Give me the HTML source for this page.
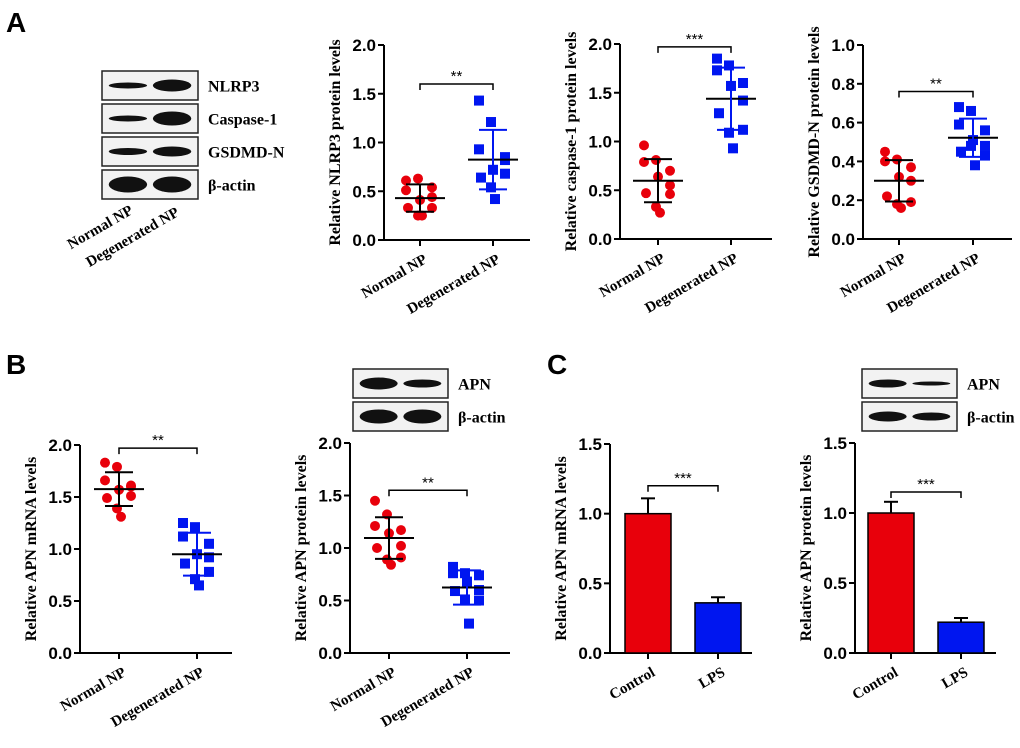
<!DOCTYPE html>
<html><head><meta charset="utf-8"><style>
html,body{margin:0;padding:0;background:#fff;}
svg{display:block;}
.tk{font-family:"Liberation Sans",Arial,sans-serif;font-weight:bold;font-size:16px;}
.sf{font-family:"Liberation Serif","Times New Roman",serif;font-weight:bold;}
</style></head><body>
<svg id="fig" width="1020" height="748" viewBox="0 0 1020 748" xmlns="http://www.w3.org/2000/svg">
<text x="6" y="32" class="tk" style="font-size:28px">A</text>
<text x="6" y="374" class="tk" style="font-size:28px">B</text>
<text x="547" y="374" class="tk" style="font-size:28px">C</text>
</svg>
<script>
// ---- data ----
const catsNP = ["Normal NP","Degenerated NP"];
const catsC = ["Control","LPS"];
const nlrp3Normal = [0.61,0.63,0.51,0.54,0.41,0.44,0.33,0.33,0.25,0.25];
const nlrp3Degen = [1.43,1.21,0.93,0.82,0.72,0.85,0.64,0.68,0.54,0.42];
const casNormal = [0.96,0.81,0.79,0.70,0.64,0.55,0.47,0.46,0.33,0.27];
const casDegen = [1.85,1.78,1.73,1.60,1.57,1.42,1.29,1.12,1.09,0.93];
const gsdNormal = [0.45,0.41,0.40,0.37,0.32,0.30,0.22,0.19,0.18,0.16];
const gsdDegen = [0.68,0.66,0.59,0.56,0.51,0.48,0.45,0.43,0.48,0.38];
const mrnaNormal = [1.83,1.79,1.66,1.60,1.57,1.61,1.49,1.51,1.39,1.31];
const mrnaDegen = [1.25,1.21,1.12,1.05,0.95,0.92,0.86,0.78,0.71,0.65];
const apnNormal = [1.45,1.32,1.21,1.17,1.14,1.02,1.00,0.91,0.89,0.84];
const apnDegen = [0.82,0.76,0.76,0.74,0.68,0.60,0.59,0.50,0.51,0.28];
const lpsMrnaMeans = [1.0,0.36];
const lpsMrnaErr = [0.11,0.04];
const lpsProtMeans = [1.0,0.22];
const lpsProtErr = [0.08,0.03];
const ticks2 = ["0.0","0.5","1.0","1.5","2.0"];
const ticks1 = ["0.0","0.2","0.4","0.6","0.8","1.0"];
const ticks15 = ["0.0","0.5","1.0","1.5"];

const NS="http://www.w3.org/2000/svg";
const svg=document.getElementById('fig');
function mk(tag,attrs,parent){const e=document.createElementNS(NS,tag);for(const k in attrs)e.setAttribute(k,attrs[k]);(parent||svg).appendChild(e);return e;}
function mean(a){return a.reduce((s,v)=>s+v,0)/a.length;}
function sd(a){const m=mean(a);return Math.sqrt(a.reduce((s,v)=>s+(v-m)*(v-m),0)/(a.length-1));}

function panel(o){
  const g=mk('g',{});
  
  
  const ymax=parseFloat(o.ticks[o.ticks.length-1]);
  const y=v=>o.y0-(v/ymax)*(o.y0-o.y1);
  const xc=i=>o.cx[i];
  const ax=mk('line',{x1:o.ax,y1:o.y1,x2:o.ax,y2:o.y0+1,stroke:'#000','stroke-width':2},g);
  
  const bx=mk('line',{x1:o.ax-1,y1:o.y0,x2:o.xend,y2:o.y0,stroke:'#000','stroke-width':2},g);
  
  o.ticks.forEach(t=>{
    const yy=y(parseFloat(t));
    mk('line',{x1:o.ax-6,y1:yy,x2:o.ax,y2:yy,stroke:'#000','stroke-width':2},g);
    const tl=mk('text',{x:o.ax-8,y:yy+6,'text-anchor':'end',class:'tk',style:'font-size:17px'},g);tl.textContent=t;
    
  });
  const yt=mk('text',{x:0,y:0,class:'sf',style:'font-size:16px','text-anchor':'middle',transform:`translate(${o.ax-44},${(o.y0+o.y1)/2}) rotate(-90)`},g);
  yt.textContent=o.title;
  o.cats.forEach((c,i)=>{
    mk('line',{x1:xc(i),y1:o.y0,x2:xc(i),y2:o.y0+6,stroke:'#000','stroke-width':2},g);
    const t=mk('text',{x:0,y:0,class:'sf',style:'font-size:15px','text-anchor':'end',transform:`translate(${xc(i)+8},${o.y0+22}) rotate(-30)`},g);
    t.textContent=c;
  });
  const cols=['#e8000b','#0016f0'];
  if(o.groups){
    const jit=[-14,-2,-14,12,0,12,-12,12,-2,2];
    o.groups.forEach((arr,gi)=>{
      arr.forEach((v,i)=>{
        const px=xc(gi)+jit[i%jit.length]*1.0, py=y(v);
        let m;
        if(gi===0) m=mk('circle',{cx:px,cy:py,r:5,fill:cols[0]},g);
        else m=mk('rect',{x:px-5,y:py-5,width:10,height:10,fill:cols[1]},g);
        
        
      });
      const m=mean(arr),s=sd(arr),ec=gi===0?'#000':cols[1];
      mk('line',{x1:xc(gi)-25,y1:y(m),x2:xc(gi)+25,y2:y(m),stroke:'#000','stroke-width':2},g);
      mk('line',{x1:xc(gi),y1:y(m+s),x2:xc(gi),y2:y(m-s),stroke:ec,'stroke-width':2},g);
      mk('line',{x1:xc(gi)-14,y1:y(m+s),x2:xc(gi)+14,y2:y(m+s),stroke:ec,'stroke-width':2},g);
      mk('line',{x1:xc(gi)-14,y1:y(m-s),x2:xc(gi)+14,y2:y(m-s),stroke:ec,'stroke-width':2},g);
    });
  }
  if(o.bars){
    o.bars.forEach((v,i)=>{
      const b=mk('rect',{x:xc(i)-23,y:y(v),width:46,height:o.y0-y(v),fill:cols[i],stroke:'#000','stroke-width':1.5},g);
      
      const e=o.err[i];
      mk('line',{x1:xc(i),y1:y(v),x2:xc(i),y2:y(v+e),stroke:'#000','stroke-width':2},g);
      mk('line',{x1:xc(i)-7,y1:y(v+e),x2:xc(i)+7,y2:y(v+e),stroke:'#000','stroke-width':2},g);
    });
  }
  const by=y(o.br);
  const br=mk('path',{d:`M${xc(0)},${by+6}V${by}H${xc(1)}V${by+6}`,fill:'none',stroke:'#000','stroke-width':1.5},g);
  
  const st=mk('text',{x:(xc(0)+xc(1))/2,y:by-3,'text-anchor':'middle',style:'font-family:"Liberation Sans",sans-serif;font-size:15px;'},g);
  st.textContent=o.stars;
}

panel({name:'nlrp3-chart',ax:384,y0:240,y1:45,xend:530,cx:[420,493],ticks:ticks2,title:'Relative NLRP3 protein levels',cats:catsNP,groups:[nlrp3Normal,nlrp3Degen],br:1.6,stars:'**'});
panel({name:'caspase1-chart',ax:620,y0:239,y1:44,xend:772,cx:[658,731],ticks:ticks2,title:'Relative caspase-1 protein levels',cats:catsNP,groups:[casNormal,casDegen],br:1.97,stars:'***'});
panel({name:'gsdmd-chart',ax:863,y0:239,y1:45,xend:1012,cx:[899,973],ticks:ticks1,title:'Relative GSDMD-N protein levels',cats:catsNP,groups:[gsdNormal,gsdDegen],br:0.76,stars:'**'});
panel({name:'apn-mrna-chart',ax:80,y0:653,y1:445,xend:232,cx:[119,197],ticks:ticks2,title:'Relative APN mRNA levels',cats:catsNP,groups:[mrnaNormal,mrnaDegen],br:1.97,stars:'**'});
panel({name:'apn-protein-chart',ax:350,y0:653,y1:443,xend:510,cx:[389,467],ticks:ticks2,title:'Relative APN protein levels',cats:catsNP,groups:[apnNormal,apnDegen],br:1.55,stars:'**'});
panel({name:'lps-mrna-chart',ax:610,y0:653,y1:444,xend:752,cx:[648,718],ticks:ticks15,title:'Relative APN mRNA levels',cats:catsC,bars:lpsMrnaMeans,err:lpsMrnaErr,br:1.2,stars:'***'});
panel({name:'lps-protein-chart',ax:855,y0:653,y1:443,xend:996,cx:[891,961],ticks:ticks15,title:'Relative APN protein levels',cats:catsC,bars:lpsProtMeans,err:lpsProtErr,br:1.15,stars:'***'});

function blot(name,x,yTop,w,h,label,bands){
  const g=mk('g',{});
  
  
  mk('rect',{x:x,y:yTop,width:w,height:h,fill:'#f2f2f2',stroke:'#222','stroke-width':1.5},g);
  bands.forEach((b,i)=>{
    const cx=x+w*(i===0?0.27:0.73);
    mk('ellipse',{cx:cx,cy:yTop+h/2,rx:w*0.2,ry:b,fill:'#111'},g);
  });
  const t=mk('text',{x:x+w+10,y:yTop+h/2+6,class:'sf',style:'font-size:16px'},g);
  t.textContent=label;
  
  
}
blot('blot-nlrp3',102,71,96,29,'NLRP3',[3,6]);
blot('blot-caspase1',102,104,96,29,'Caspase-1',[3,7]);
blot('blot-gsdmd',102,137,96,29,'GSDMD-N',[3.5,5]);
blot('blot-actin-a',102,170,96,29,'β-actin',[8,8]);
blot('blot-apn-b',353,369,95,29,'APN',[6,4]);
blot('blot-actin-b',353,402,95,29,'β-actin',[7,7]);
blot('blot-apn-c',862,369,95,29,'APN',[4,2]);
blot('blot-actin-c',862,402,95,29,'β-actin',[5,4]);
[['Normal NP',134,213],['Degenerated NP',180,215]].forEach(([s,x,yy])=>{
  const t=mk('text',{x:0,y:0,class:'sf',style:'font-size:15px','text-anchor':'end',transform:`translate(${x},${yy}) rotate(-30)`});
  t.textContent=s;
  
  
});
</script>
</body></html>
